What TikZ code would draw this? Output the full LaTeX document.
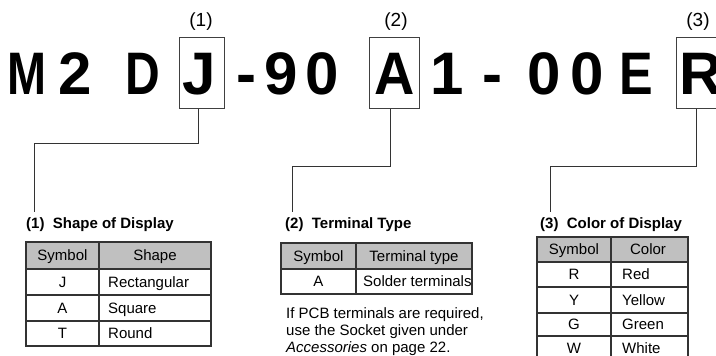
\documentclass[tikz,border=0pt]{standalone}
\usepackage{fontspec}
\setmainfont{Liberation Sans}
\usepackage{xcolor}
\usetikzlibrary{positioning}
\definecolor{headgray}{RGB}{192,192,192}
\tikzset{
  letter/.style={inner sep=0,anchor=base,font=\fontsize{60}{60}\selectfont\bfseries},
  tag/.style={inner sep=0,anchor=base,font=\fontsize{19}{19}\selectfont},
  codebox/.style={draw=black!75,line width=1pt,minimum height=71,inner sep=0},
  leader/.style={draw=black!80,line width=1pt},
  title/.style={inner sep=0,anchor=base west,font=\fontsize{15}{17}\selectfont\bfseries},
  cell/.style={inner sep=0,anchor=base,font=\fontsize{15}{17}\selectfont},
  lcell/.style={cell,anchor=base west},
  grid/.style={draw=black!80,line width=1.3pt},
  note/.style={inner sep=0,anchor=north west,align=left,font=\fontsize{15}{17}\selectfont},
}
\begin{document}
\begin{tikzpicture}[x=1pt,y=-1pt]
\useasboundingbox (0,0) rectangle (716,356);
\clip (0,0) rectangle (716,356);

% Boxes round the coded letters
\node[codebox,minimum width=45] (boxJ) at (201.5,72.5) {};
\node[codebox,minimum width=50] (boxA) at (394,72.5) {};
\node[codebox,minimum width=50] (boxR) at (701,72.5) {};

% Model code
\foreach \x/\ch/\nm/\sc in {27/M/cM/0.78,75/2/cTwo/1,142.5/D/cD/0.8,199/J/cJ/1,246.5/-/cDashA/1,
  281/9/cNine/1,322/0/cZeroA/1,395/A/cA/0.93,447/1/cOne/1,492/-/cDashB/1,
  544/0/cZeroB/1,587/0/cZeroC/1,636/E/cE/0.84,701/R/cR/1}
  \node[letter] (\nm) at (\x,94) {\scalebox{\sc}[1]{\ch}};

\node[tag] (tagJ) at (201,27) {(1)};
\node[tag] (tagA) at (396,27) {(2)};
\node[tag] (tagR) at (698,27) {(3)};

% Leader lines
\coordinate (endJ) at (34,212);
\coordinate (endA) at (292,212);
\coordinate (endR) at (550,212);
\draw[leader] ([xshift=-3]boxJ.south) -- ++(0,35) -| (endJ);
\draw[leader] ([xshift=-4]boxA.south) -- ++(0,58) -| (endA);
\draw[leader] ([xshift=-5]boxR.south) -- ++(0,58) -| (endR);

% (1) Shape of Display
\node[title] (titleJ) at (26,228) {(1)\ \ Shape of Display};
\fill[headgray] (26,242) rectangle (211,269);
\draw[grid] (26,242) rectangle (211,346);
\foreach \y in {269,295,321}
  \draw[grid] (26,\y) -- (211,\y);
\draw[grid] (99,242) -- (99,346);
\node[cell] (headJa) at (62.5,260) {Symbol};
\node[cell] (headJb) at (155,260) {Shape};
\foreach \y/\s/\n in {287/J/Rectangular,313/A/Square,338.5/T/Round}{
  \node[cell] at (62.5,\y) {\s};
  \node[lcell] at (108,\y) {\n};
}

% (2) Terminal Type
\node[title] (titleA) at (285,228) {(2)\ \ Terminal Type};
\fill[headgray] (281,243) rectangle (472,269);
\draw[grid] (281,243) rectangle (472,294);
\draw[grid] (281,269) -- (472,269);
\draw[grid] (356,243) -- (356,294);
\node[cell] (headAa) at (318.5,261) {Symbol};
\node[cell] (headAb) at (414,261) {Terminal type};
\node[cell] (symA) at (318.5,286.5) {A};
\node[lcell] (typeA) at (363,286.5) {Solder terminals};
\node[note] (noteA) at (286,307) {If PCB terminals are required,\\use the Socket given under\\\textit{Accessories} on page 22.};

% (3) Color of Display
\node[title] (titleR) at (540,228) {(3)\ \ Color of Display};
\fill[headgray] (537,237) rectangle (688,262);
\draw[grid] (537,237) rectangle (688,361);
\foreach \y in {262,287,313,336}
  \draw[grid] (537,\y) -- (688,\y);
\draw[grid] (611,237) -- (611,361);
\node[cell] (headRa) at (574,254.5) {Symbol};
\node[cell] (headRb) at (648,254.5) {Color};
\foreach \y/\s/\n in {279.5/R/Red,305/Y/Yellow,329.5/G/Green,353.5/W/White}{
  \node[cell] at (574,\y) {\s};
  \node[lcell] at (622,\y) {\n};
}
\end{tikzpicture}
\end{document}
